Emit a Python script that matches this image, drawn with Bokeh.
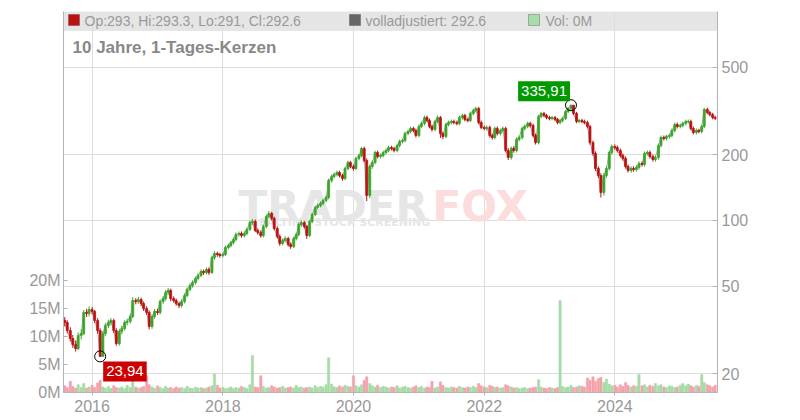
import pandas as pd
from bokeh.plotting import figure
from bokeh.models import (Range1d, LinearAxis, FixedTicker, ColumnDataSource, Label,
                          BoxAnnotation, LinearScale)
from bokeh.embed import file_html
from bokeh.resources import INLINE

# ---------------- data (half-month candles) ----------------
first_open = 35.0
closes = [
    34.2, 31.4, 28.9, 27.1, 26.0, 29.8, 30.4, 38.0, 37.6, 39.2,
    38.4, 34.9, 31.4, 23.94, 30.4, 33.1, 34.2, 34.9, 31.4, 27.4,
    31.1, 32.1, 34.2, 34.6, 36.4, 43.1, 42.6, 43.5, 41.7, 39.6,
    38.0, 32.8, 36.4, 38.4, 38.0, 42.6, 44.0, 46.9, 47.9, 44.0,
    43.1, 41.7, 40.9, 42.6, 45.4, 48.4, 50.4, 52.1, 54.3, 56.1,
    58.5, 57.8, 59.7, 57.8, 67.7, 70.6, 69.9, 69.2, 69.9, 75.2,
    76.8, 79.3, 81.8, 86.2, 87.2, 85.3, 87.2, 90.9, 97.8, 99.0,
    90.0, 88.1, 85.3, 93.8, 104.2, 107.6, 102.1, 91.9, 84.4, 78.5,
    81.0, 82.7, 77.6, 76.0, 82.7, 86.2, 95.8, 97.8, 93.8, 85.3,
    98.9, 106.4, 114.6, 117.0, 119.5, 123.3, 127.3, 152.1, 158.7, 162.1,
    165.5, 160.4, 155.4, 172.6, 183.9, 176.3, 172.6, 191.8, 197.9, 213.0,
    187.8, 130.0, 176.3, 183.9, 204.2, 195.8, 197.9, 204.2, 208.6, 215.2,
    213.0, 208.6, 219.8, 229.4, 231.8, 249.4, 254.8, 263.0, 257.4, 244.2,
    268.6, 277.2, 295.0, 286.0, 268.6, 260.2, 283.0, 295.0, 249.4, 241.6,
    274.2, 280.0, 283.0, 280.0, 277.2, 295.0, 301.4, 289.0, 286.0, 307.8,
    317.6, 324.4, 280.0, 265.8, 263.0, 265.8, 244.2, 239.2, 263.0, 249.4,
    257.4, 263.0, 208.6, 193.8, 213.0, 208.6, 234.2, 239.2, 263.0, 268.6,
    277.2, 271.2, 244.2, 226.8, 298.2, 307.8, 301.4, 295.0, 292.0, 295.0,
    289.0, 280.0, 286.0, 292.0, 314.4, 324.4, 335.91, 307.8, 283.0, 286.0,
    283.0, 280.0, 268.6, 226.8, 202.2, 172.6, 160.4, 134.1, 160.4, 172.6,
    204.2, 217.6, 215.2, 208.6, 197.9, 191.8, 176.3, 169.1, 172.6, 170.9,
    174.5, 181.9, 180.0, 202.2, 204.2, 195.8, 189.8, 193.8, 219.8, 239.2,
    236.8, 241.6, 244.2, 257.4, 274.2, 268.6, 271.2, 277.2, 283.0, 283.0,
    263.0, 252.0, 257.4, 254.8, 268.6, 321.0, 311.0, 304.4, 295.0, 292.6,
]
highs = [
    36.2, 35.0, 32.5, 30.0, 28.3, 30.8, 31.8, 39.0, 39.5, 40.5,
    40.2, 39.0, 35.8, 32.2, 31.2, 34.0, 35.2, 35.8, 35.6, 32.2,
    32.0, 33.0, 35.0, 35.6, 37.4, 44.6, 44.2, 44.8, 44.4, 42.6,
    40.6, 38.8, 37.2, 39.4, 39.6, 43.6, 45.2, 48.0, 49.2, 48.8,
    45.0, 44.0, 42.6, 43.6, 46.4, 49.4, 51.6, 53.2, 55.4, 57.4,
    59.8, 59.6, 61.0, 61.0, 69.0, 72.4, 72.0, 71.2, 71.4, 76.8,
    78.4, 80.8, 83.6, 88.0, 89.0, 89.0, 89.2, 92.8, 100.0, 101.4,
    101.0, 92.0, 90.2, 95.6, 106.4, 110.4, 109.6, 104.0, 94.0, 86.4,
    82.6, 84.6, 84.2, 79.4, 84.4, 88.0, 97.8, 100.2, 99.6, 95.4,
    100.6, 108.4, 116.8, 119.4, 122.0, 125.6, 130.0, 155.0, 162.0, 165.4,
    169.0, 168.6, 163.6, 175.8, 187.4, 187.0, 179.8, 195.4, 201.6, 217.0,
    217.4, 192.0, 180.0, 188.0, 208.0, 208.4, 202.0, 208.2, 212.8, 219.6,
    219.4, 217.2, 224.2, 234.0, 236.4, 254.0, 259.6, 268.2, 268.0, 262.4,
    274.0, 283.0, 301.0, 301.8, 292.0, 274.0, 288.6, 301.2, 300.0, 255.0,
    279.6, 285.6, 288.8, 288.6, 285.6, 301.0, 307.4, 307.0, 294.6, 314.0,
    323.8, 330.6, 330.0, 286.0, 271.0, 271.4, 271.0, 249.4, 268.2, 268.4,
    262.4, 268.4, 268.0, 214.0, 217.6, 218.0, 239.2, 244.4, 268.2, 273.8,
    282.6, 282.8, 276.4, 249.6, 303.6, 313.2, 313.0, 306.6, 300.4, 300.4,
    300.2, 294.0, 291.4, 297.6, 319.6, 330.0, 335.91, 335.91, 313.0, 291.4,
    291.2, 288.6, 285.4, 273.6, 231.6, 206.6, 176.6, 164.2, 164.6, 176.6,
    208.4, 222.2, 222.6, 220.0, 213.2, 202.4, 196.0, 180.2, 176.6, 176.8,
    178.4, 186.0, 186.0, 206.4, 208.6, 208.8, 200.2, 198.2, 224.4, 244.0,
    244.2, 246.4, 249.2, 262.6, 279.6, 279.8, 276.6, 282.6, 288.6, 288.8,
    288.6, 268.2, 262.6, 262.4, 273.8, 327.0, 327.4, 317.0, 310.0, 300.4,
]
lows = [
    32.8, 30.5, 28.0, 26.2, 25.2, 25.6, 28.6, 30.0, 36.2, 36.5,
    37.2, 34.0, 30.4, 23.94, 23.94, 29.6, 32.2, 33.2, 30.6, 26.8,
    26.8, 30.2, 31.4, 33.2, 33.8, 35.8, 41.4, 41.6, 40.6, 38.6,
    37.0, 31.8, 32.0, 35.6, 37.0, 37.2, 41.6, 43.0, 45.6, 42.8,
    42.2, 40.8, 39.8, 40.0, 41.8, 44.6, 47.4, 49.4, 51.0, 53.2,
    55.0, 56.4, 56.8, 56.4, 57.0, 66.2, 68.2, 67.6, 67.8, 68.8,
    73.8, 75.4, 77.8, 80.4, 84.4, 83.4, 83.6, 85.6, 89.6, 95.6,
    88.4, 86.2, 83.4, 83.8, 92.0, 102.0, 100.0, 90.0, 82.6, 76.6,
    77.0, 79.4, 76.0, 74.2, 74.8, 81.0, 84.6, 93.6, 91.8, 82.4,
    84.0, 97.0, 104.6, 112.4, 114.8, 117.2, 121.0, 125.0, 148.8, 155.6,
    158.8, 157.2, 151.8, 152.6, 169.4, 173.0, 168.8, 170.0, 188.4, 194.6,
    184.0, 122.5, 126.5, 172.0, 180.4, 191.8, 191.8, 194.0, 200.2, 204.8,
    208.8, 204.4, 204.6, 215.6, 225.0, 227.6, 244.6, 250.0, 252.4, 239.2,
    240.0, 263.6, 272.0, 280.6, 263.4, 254.6, 255.2, 277.8, 238.0, 235.0,
    237.0, 268.8, 274.4, 274.4, 271.6, 272.0, 289.2, 283.4, 280.4, 281.0,
    302.0, 311.4, 274.4, 260.6, 257.8, 257.8, 238.8, 233.8, 234.6, 244.2,
    244.4, 252.2, 204.6, 188.8, 189.6, 203.8, 204.4, 229.4, 234.4, 257.6,
    263.4, 265.8, 239.4, 222.0, 222.4, 292.6, 295.6, 289.6, 286.4, 286.6,
    283.6, 274.6, 274.8, 280.6, 287.4, 309.4, 319.0, 302.0, 277.6, 277.8,
    277.6, 274.6, 263.2, 221.8, 197.6, 168.4, 156.2, 127.3, 130.0, 156.6,
    169.0, 199.6, 210.4, 204.0, 193.6, 187.6, 172.4, 165.4, 165.2, 166.8,
    167.0, 170.8, 176.0, 176.2, 197.8, 191.6, 185.6, 185.4, 189.6, 215.2,
    231.6, 232.0, 236.4, 239.2, 252.2, 263.2, 263.4, 266.0, 271.8, 277.4,
    258.0, 247.0, 247.2, 249.8, 250.0, 263.6, 305.0, 298.6, 289.6, 287.6,
]
volumes_m = [
    1.2, 0.9, 2.0, 1.1, 0.8, 1.4, 0.9, 1.6, 0.8, 1.0,
    1.3, 0.9, 1.7, 2.2, 1.0, 0.8, 1.1, 0.7, 1.2, 0.9,
    0.8, 1.0, 0.7, 1.3, 0.9, 2.4, 1.0, 0.8, 0.9, 1.1,
    3.0, 1.4, 1.0, 0.8, 1.2, 0.9, 0.7, 1.1, 0.8, 0.9,
    0.7, 1.0, 0.8, 0.9, 0.7, 1.1, 0.8, 0.7, 1.0, 0.8,
    0.9, 0.7, 0.8, 1.0, 1.2, 3.3, 1.3, 0.8, 0.9, 0.7,
    0.8, 1.0, 0.7, 0.9, 0.8, 1.1, 0.9, 0.7, 1.4, 6.6,
    1.0, 0.9, 3.0, 1.1, 0.8, 0.9, 1.2, 1.0, 0.8, 0.9,
    1.1, 0.8, 0.9, 1.0, 0.8, 1.3, 0.9, 1.0, 0.8, 0.9,
    1.0, 0.8, 1.2, 0.9, 1.1, 1.0, 1.4, 6.2, 1.5, 1.0,
    0.9, 1.2, 1.0, 1.3, 1.1, 1.0, 3.0, 1.2, 1.0, 1.4,
    2.2, 2.8, 1.6, 1.2, 1.0, 1.3, 0.9, 1.1, 1.0, 0.8,
    1.0, 0.9, 1.2, 0.8, 1.0, 1.1, 0.9, 0.8, 1.0, 1.2,
    0.9, 1.1, 0.8, 1.0, 0.9, 2.0, 0.8, 1.0, 1.9, 1.3,
    0.9, 0.8, 1.0, 0.9, 0.8, 1.1, 0.9, 0.8, 1.0, 0.9,
    1.1, 0.9, 1.6, 1.2, 1.0, 0.9, 1.3, 1.1, 0.9, 1.0,
    0.8, 0.9, 1.4, 1.2, 1.0, 0.8, 0.9, 0.7, 0.8, 0.9,
    0.7, 0.8, 0.9, 1.0, 2.3, 1.0, 0.8, 0.7, 0.9, 0.8,
    0.7, 0.9, 16.4, 1.1, 0.9, 1.0, 1.3, 0.9, 1.0, 1.2,
    1.1, 1.0, 2.6, 2.2, 2.8, 2.0, 2.5, 2.7, 1.8, 2.4,
    1.5, 1.2, 1.3, 1.0, 1.4, 1.1, 1.8, 1.3, 1.0, 1.2,
    1.1, 3.2, 1.2, 1.4, 1.0, 1.3, 1.1, 1.6, 1.2, 1.4,
    1.0, 0.9, 1.2, 1.1, 0.9, 1.0, 1.3, 1.6, 1.2, 1.5,
    1.2, 1.0, 1.3, 1.1, 3.2, 1.8, 1.4, 1.2, 1.0, 1.3,
]
year_labels = ["2016", "2018", "2020", "2022", "2024"]
price_ticks = [20, 50, 100, 200, 500]
vol_ticks = [0, 5, 10, 15, 20]
vol_tick_labels = ["0M", "5M", "10M", "15M", "20M"]

title_text = "10 Jahre, 1-Tages-Kerzen"
legend_ohlc = "Op:293, Hi:293.3, Lo:291, Cl:292.6"
legend_adj = "volladjustiert: 292.6"
legend_vol = "Vol: 0M"

# ---------------- derived table ----------------
dates = pd.date_range("2015-08-01", periods=len(closes), freq="SMS")
opens = [first_open] + closes[:-1]
UP, DOWN = "#3aa52a", "#bb1111"
VUP, VDOWN = "#a6dba6", "#f2a3ab"
df = pd.DataFrame({"date": dates, "open": opens, "close": closes,
                   "high": highs, "low": lows, "vol": volumes_m})
df["top"] = df[["open", "close"]].max(axis=1)
df["bottom"] = df[["open", "close"]].min(axis=1)
df["color"] = [UP if c >= o else DOWN for o, c in zip(df.open, df.close)]
df["vcolor"] = [VUP if c >= o else VDOWN for o, c in zip(df.open, df.close)]
src = ColumnDataSource(df)

GRAY = "#999999"
AXIS = "#b3b3b3"
FONT = "Liberation Sans"

x0 = pd.Timestamp("2015-07-25")
x1 = pd.Timestamp("2025-07-28")
p = figure(width=792, height=418, x_axis_type="datetime", y_axis_type="log",
           x_range=Range1d(x0, x1), y_range=Range1d(16.38, 899.5),
           y_axis_location="right", output_backend="svg", toolbar_location=None,
           min_border_left=63, min_border_right=75, min_border_top=11, min_border_bottom=26)
p.outline_line_color = None
p.background_fill_color = "white"
p.border_fill_color = "white"

p.extra_y_ranges = {"vol": Range1d(0, 68)}
p.extra_y_scales = {"vol": LinearScale()}

# header band
band = BoxAnnotation(bottom=362, top=381, bottom_units="screen", top_units="screen",
                     fill_color="#e5e5e5", fill_alpha=1, line_color="#cccccc",
                     line_width=1, level="image")
p.add_layout(band)

# watermark
for txt, xs, ys, col, size, wt in [
    ("TRADER", 175, 186, "#e6e6e6", "42px", "bold"),
    ("FOX", 369, 186, "#fcdcdc", "42px", "bold"),
    ("REALTIME STOCK SCREENING", 187, 170, "#e6e6e6", "11px", "bold"),
]:
    p.add_layout(Label(x=xs, y=ys, x_units="screen", y_units="screen", text=txt,
                       text_color=col, text_font_size=size, text_font_style=wt,
                       text_font="DejaVu Sans", text_baseline="alphabetic",
                       level="underlay"))

day = 24 * 3600 * 1000
# volume
p.vbar(x="date", top="vol", bottom=0, width=13 * day, fill_color="vcolor",
       line_color="vcolor", line_width=0.5, y_range_name="vol", source=src)
# adjusted close line (gray, behind candles)
p.line(x="date", y="close", color="#b0b0b0", line_width=1, source=src)
# candles: wicks + bodies
p.segment(x0="date", y0="low", x1="date", y1="high", color="color", line_width=1, source=src)
p.vbar(x="date", top="top", bottom="bottom", width=11 * day, fill_color="color",
       line_color="color", line_width=0.8, source=src)

# axes
year_ms = [pd.Timestamp(f"{y}-01-01").value // 10**6 for y in year_labels]
xa = p.xaxis[0]
xa.ticker = FixedTicker(ticks=year_ms)
xa.major_label_overrides = {t: l for t, l in zip(year_ms, year_labels)}
xa.major_tick_out = 3
xa.major_tick_in = 0
xa.major_label_standoff = 4
xa.axis_line_color = AXIS
xa.major_tick_line_color = AXIS
xa.minor_tick_line_color = None
xa.major_label_text_color = GRAY
xa.major_label_text_font = FONT
xa.major_label_text_font_size = "16px"

ya = p.right[0]
ya.ticker = FixedTicker(ticks=price_ticks, minor_ticks=[])
ya.major_label_overrides = {t: str(t) for t in price_ticks}
ya.major_tick_in = 5
ya.major_tick_out = 0
ya.major_label_standoff = 4
ya.axis_line_color = AXIS
ya.major_tick_line_color = AXIS
ya.minor_tick_line_color = None
ya.major_label_text_color = GRAY
ya.major_label_text_font = FONT
ya.major_label_text_font_size = "16px"

va = LinearAxis(y_range_name="vol", ticker=FixedTicker(ticks=vol_ticks, minor_ticks=[]),
                major_label_overrides={t: l for t, l in zip(vol_ticks, vol_tick_labels)})
va.major_tick_in = 4
va.major_tick_out = 0
va.major_label_standoff = 3
va.axis_line_color = AXIS
va.major_tick_line_color = AXIS
va.minor_tick_line_color = None
va.major_label_text_color = GRAY
va.major_label_text_font = FONT
va.major_label_text_font_size = "16px"
p.add_layout(va, "left")

p.xgrid.ticker = FixedTicker(ticks=year_ms)
p.ygrid.ticker = FixedTicker(ticks=price_ticks, minor_ticks=[])
p.xgrid.grid_line_color = "#dddddd"
p.ygrid.grid_line_color = "#dddddd"

# header legend
for l, r, fill, txt, tx in [
    (5, 16, "#bb1111", legend_ohlc, 21),
    (286, 297, "#666666", legend_adj, 302),
    (465, 476, "#a8dca8", legend_vol, 482),
]:
    p.add_layout(BoxAnnotation(left=l, right=r, bottom=367, top=378, left_units="screen",
                               right_units="screen", bottom_units="screen", top_units="screen",
                               fill_color=fill, fill_alpha=1, line_color="#333333", line_width=1))
    p.add_layout(Label(x=tx, y=372, x_units="screen", y_units="screen", text=txt,
                       text_color=GRAY, text_font_size="14px", text_font=FONT,
                       text_baseline="middle"))

p.add_layout(Label(x=9, y=345, x_units="screen", y_units="screen", text=title_text,
                   text_color="#888888", text_font_size="17px", text_font_style="bold",
                   text_font=FONT, text_baseline="middle"))

# high / low markers
imax = int(df.high.idxmax())
imin = int(df.low.idxmin())
hi_d, hi_v = df.date[imax], df.high[imax]
lo_d, lo_v = df.date[imin], df.low[imin]
p.scatter(x=[hi_d, lo_d], y=[hi_v, lo_v], marker="circle", size=11,
          fill_color=None, line_color="black", line_width=1)
p.add_layout(Label(x=hi_d, y=hi_v, text=f"{hi_v:.2f}".replace(".", ","),
                   x_offset=-1, y_offset=4, anchor="bottom_right",
                   background_fill_color="#009900", background_fill_alpha=1,
                   text_color="white", text_font_size="15px", text_font=FONT,
                   padding=(3, 5)))
p.add_layout(Label(x=lo_d, y=lo_v, text=f"{lo_v:.2f}".replace(".", ","),
                   x_offset=3, y_offset=-5, anchor="top_left",
                   background_fill_color="#cc0000", background_fill_alpha=1,
                   text_color="white", text_font_size="15px", text_font=FONT,
                   padding=(3, 5)))

open("out.html", "w").write(file_html(p, INLINE))
